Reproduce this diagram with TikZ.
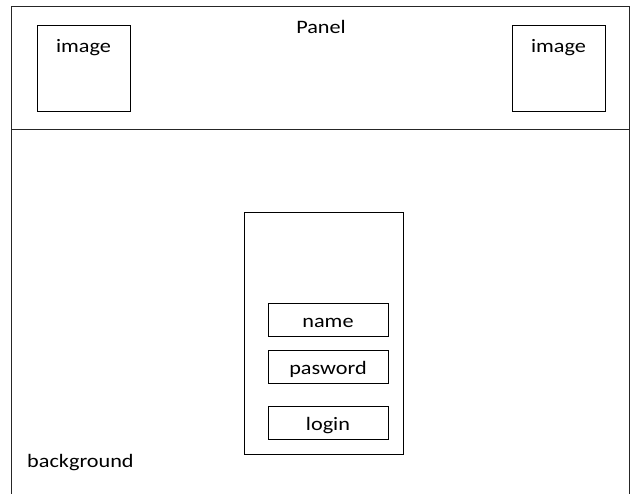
\documentclass[tikz,border=0pt]{standalone}
\usepackage{fontspec}
\setmainfont[FakeStretch=1.17]{Carlito}
\usetikzlibrary{positioning}

\begin{document}
\begin{tikzpicture}[
    x=1pt, y=1pt,
    every node/.style={font=\fontsize{19}{22}\selectfont, inner sep=0pt},
    imgbox/.style={draw, line width=1pt, minimum width=93pt, minimum height=86pt},
    formbox/.style={draw, line width=1pt, minimum width=159pt, minimum height=242pt},
    fieldbox/.style={draw, line width=1pt, minimum width=120pt, minimum height=33pt,
        text height=15pt, text depth=0pt}
]
\useasboundingbox (0,0) rectangle (630,494);
% frame and panel
\draw[line width=1pt, black!85] (11,0) coordinate (bl) -- (11,487) -- (629,487) -- (629,0) coordinate (br);
\draw[line width=1pt, black!85] (11,364) coordinate (pl) -- (629,364) coordinate (pr);
\node (panel) at (321,467) {Panel};

\node[imgbox] (img1) at (83.5,425) {};
\node[below=14pt of img1.north] (img1txt) {image};
\node[imgbox] (img2) at (558.5,425) {};
\node[below=14pt of img2.north] (img2txt) {image};

% login form
\node[formbox] (form) at (323.5,160) {};
\node[fieldbox] (name) at (328,173.5) {name};
\node[fieldbox] (pass) at (328,126.5) {pasword};
\node[fieldbox] (login) at (328,70.5) {login};

\node[anchor=west] (bg) at (27,31) {background};
\end{tikzpicture}
\end{document}
